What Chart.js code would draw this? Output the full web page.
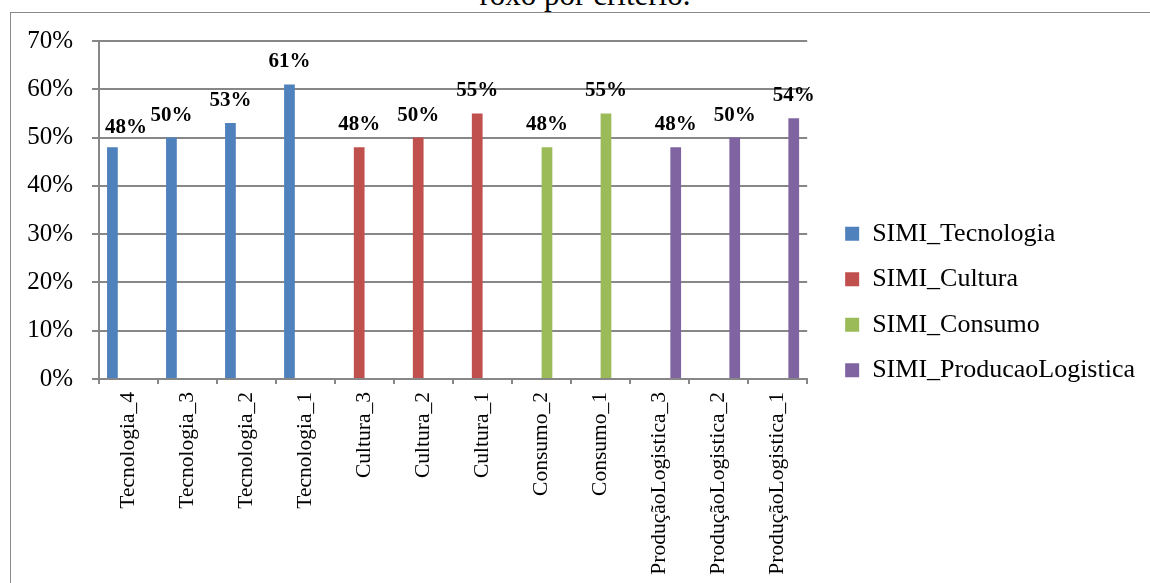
<!DOCTYPE html>
<html lang="pt">
<head>
<meta charset="utf-8">
<title>SIMI por critério</title>
<script src="https://cdn.jsdelivr.net/npm/chart.js@4.4.1/dist/chart.umd.min.js"></script>
<style>
    html, body { margin: 0; padding: 0; background: #fff; overflow: hidden; }
    body { width: 1150px; height: 583px; position: relative; font-family: 'Liberation Serif', 'Times New Roman', serif; }
    #titulo { position: absolute; left: 0; width: 1170px; top: -21px; text-align: center; font-size: 31px; line-height: 31px; color: #000; }
    #moldura { position: absolute; left: 10px; top: 12px; width: 1300px; height: 800px; border: 1px solid #8a8a8a; }
    #caixa { position: absolute; left: 0; top: 18px; width: 1150px; height: 565px; }
</style>
</head>
<body>
<div id="titulo">roxo por critério.</div>
<div id="moldura"></div>
<div id="caixa"><canvas id="graficoSimi"></canvas></div>
<script>
// ==================== DADOS ====================
const criterios = ['Tecnologia_4', 'Tecnologia_3', 'Tecnologia_2', 'Tecnologia_1',
    'Cultura_3', 'Cultura_2', 'Cultura_1', 'Consumo_2', 'Consumo_1',
    'ProduçãoLogistica_3', 'ProduçãoLogistica_2', 'ProduçãoLogistica_1'];
const simiTecnologia = [48, 50, 53, 61, null, null, null, null, null, null, null, null];
const simiCultura = [null, null, null, null, 48, 50, 55, null, null, null, null, null];
const simiConsumo = [null, null, null, null, null, null, null, 48, 55, null, null, null];
const simiProducao = [null, null, null, null, null, null, null, null, null, 48, 50, 54];
const ticksEixoY = [0, 10, 20, 30, 40, 50, 60, 70];

const corGrade = '#878787';
const fonteSerif = "'Liberation Serif', 'Times New Roman', serif";

// ==================== RÓTULOS DAS BARRAS ====================
const rotulosBarras = {
    id: 'rotulosBarras',
    afterDatasetsDraw(chart) {
        const ctx = chart.ctx;
        const area = chart.chartArea;
        ctx.save();
        ctx.font = 'bold 21px ' + fonteSerif;
        ctx.fillStyle = '#000';
        ctx.textAlign = 'left';
        ctx.textBaseline = 'alphabetic';
        chart.data.datasets.forEach((ds, i) => {
            const meta = chart.getDatasetMeta(i);
            meta.data.forEach((barra, j) => {
                const v = ds.data[j];
                if (v === null || v === undefined) return;
                const texto = v + '%';
                const w = ctx.measureText(texto).width;
                let x = barra.x - w / 2;
                let y = barra.y - 17;
                // não deixar o rótulo passar por cima do eixo
                if (x < area.left + 6) { x = area.left + 6; y = barra.y - 14; }
                ctx.fillText(texto, x, y);
            });
        });
        ctx.restore();
    }
};

// sobe um pouco a legenda (o eixo x ocupa a parte de baixo toda)
const ajusteLegenda = {
    id: 'ajusteLegenda',
    afterLayout(chart) {
        if (!chart.legend) return;
        chart.legend.top -= 10;
        chart.legend.bottom -= 10;
    }
};

// ==================== GRÁFICO ====================
const ctxSimi = document.getElementById('graficoSimi').getContext('2d');
new Chart(ctxSimi, {
    type: 'bar',
    data: {
        labels: criterios,
        datasets: [
            { label: 'SIMI_Tecnologia', data: simiTecnologia, backgroundColor: '#4F81BD' },
            { label: 'SIMI_Cultura', data: simiCultura, backgroundColor: '#C0504D' },
            { label: 'SIMI_Consumo', data: simiConsumo, backgroundColor: '#9BBB59' },
            { label: 'SIMI_ProducaoLogistica', data: simiProducao, backgroundColor: '#8064A2' }
        ]
    },
    options: {
        responsive: true,
        maintainAspectRatio: false,
        animation: false,
        categoryPercentage: 4 / 5.5,
        barPercentage: 1,
        layout: { padding: { left: 27, top: 23, right: 5, bottom: 0 } },
        plugins: {
            tooltip: { enabled: false },
            legend: {
                position: 'right',
                maxWidth: 400,
                labels: {
                    boxWidth: 14,
                    boxHeight: 14,
                    padding: 19.5,
                    color: '#000',
                    font: { family: fonteSerif, size: 26 }
                }
            }
        },
        scales: {
            x: {
                grid: { offset: true, drawOnChartArea: false, drawTicks: true, tickLength: 5, color: corGrade, lineWidth: 2 },
                border: { color: corGrade, width: 2 },
                ticks: {
                    minRotation: 90, maxRotation: 90, autoSkip: false, padding: 8,
                    color: '#000', font: { family: fonteSerif, size: 21.5 }
                },
                afterFit: s => { s.height = 204; }
            },
            y: {
                min: 0,
                max: 70,
                afterBuildTicks: s => { s.ticks = ticksEixoY.map(v => ({ value: v })); },
                grid: { color: corGrade, lineWidth: 2, tickLength: 7 },
                border: { color: corGrade, width: 2 },
                ticks: {
                    padding: 19,
                    color: '#000',
                    font: { family: fonteSerif, size: 25 },
                    callback: v => v + '%'
                },
                afterFit: s => {
                    s.width = 72;
                    // o padding dos ticks não deve empurrar o topo da área
                    s.paddingTop = 0;
                    s.paddingBottom = 0;
                }
            },
            // espaço entre a área do gráfico e a legenda
            espaco: {
                type: 'linear',
                position: 'right',
                grid: { display: false },
                ticks: { display: false },
                border: { display: false },
                afterFit: s => { s.width = 18.5; }
            }
        }
    },
    plugins: [rotulosBarras, ajusteLegenda]
});
</script>
</body>
</html>
